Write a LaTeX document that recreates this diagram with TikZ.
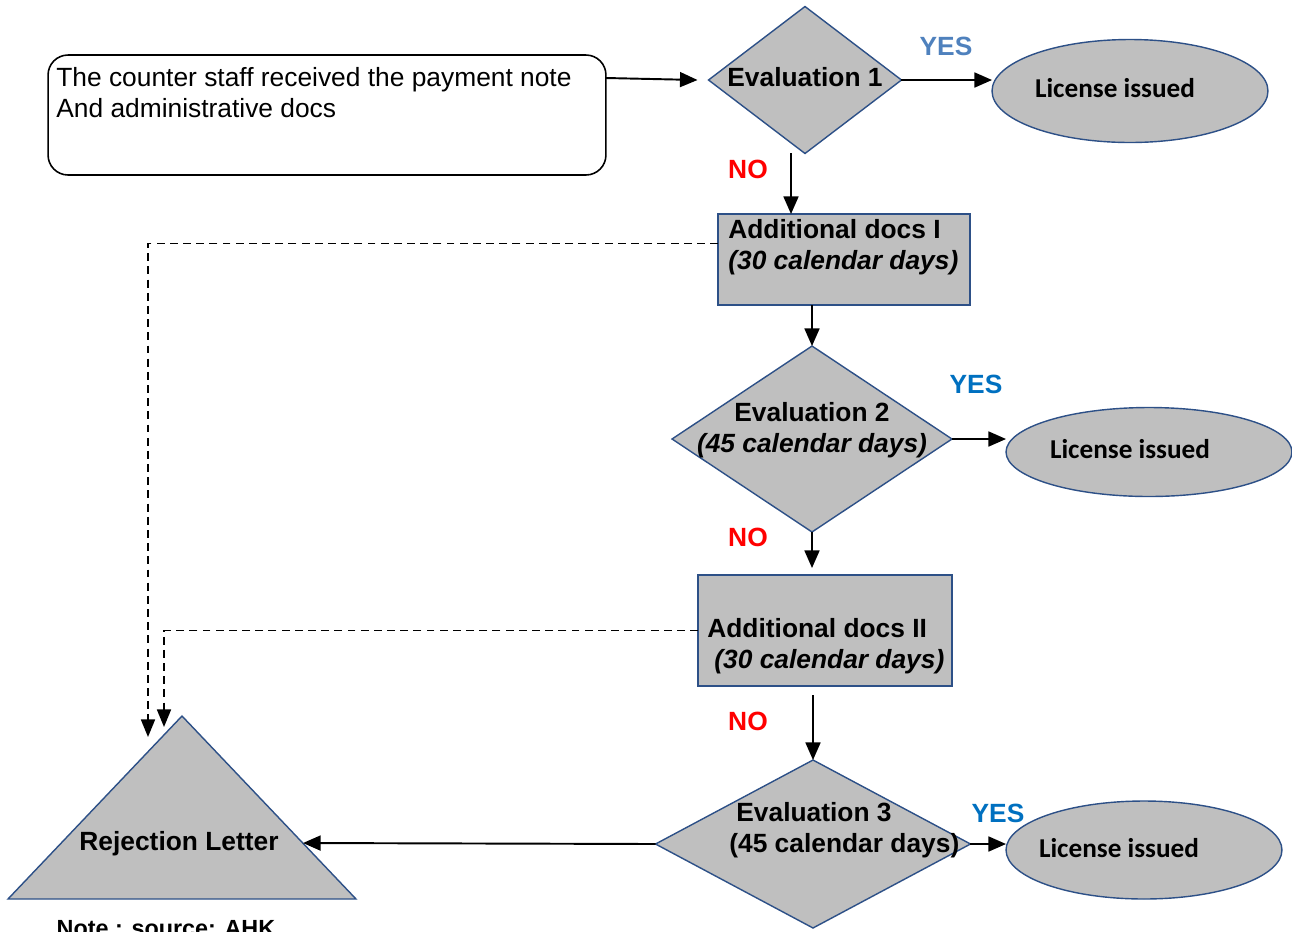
\documentclass[tikz,border=0pt]{standalone}
\usepackage{fontspec}
\setmainfont{Liberation Sans}
\newfontfamily\calib{Carlito}
\usetikzlibrary{shapes.geometric,arrows.meta}
\definecolor{shapefill}{RGB}{191,191,191}
\definecolor{shapeline}{RGB}{45,80,135}
\definecolor{yeslight}{RGB}{79,129,189}
\definecolor{yesblue}{RGB}{0,112,192}
\begin{document}
\begin{tikzpicture}[x=0.02cm,y=-0.02cm,font=\fontsize{15}{17.6}\selectfont\bfseries,
  shp/.style={draw=shapeline,fill=shapefill,line width=0.8pt,inner sep=0pt,outer sep=0pt},
  dec/.style={shp,diamond},
  lic/.style={shp,ellipse},
  docbox/.style={shp,rectangle},
  txt/.style={inner sep=0pt,align=left},
  lictxt/.style={inner sep=0pt,font=\calib\fontsize{15.5}{18}\selectfont\bfseries},
  arr/.style={line width=1.1pt,-{Triangle[length=10pt,width=8.5pt]}},
  dsh/.style={line width=0.9pt,dash pattern=on 4.5pt off 3pt,-{Triangle[length=10pt,width=8pt]}},
  yes/.style={inner sep=0pt,text=yesblue},
  no/.style={inner sep=0pt,text=red}]
\useasboundingbox (0,0) rectangle (1292,931);
\node[draw,rounded corners=0.4cm,line width=0.9pt,minimum width=11.16cm,minimum height=2.4cm,inner sep=0pt,outer sep=0pt] (start) at (327,115) {};
\node[txt,anchor=west,font=\fontsize{15}{17.6}\selectfont] (t-start) at (56,93) {The counter staff received the payment note\\And administrative docs};
\node[dec,minimum width=3.86cm,minimum height=2.94cm] (ev1) at (805,80) {};
\node[txt] (t-ev1) at (805,77) {Evaluation 1};
\node[lic,minimum width=5.52cm,minimum height=2.06cm] (lic1) at (1130,91) {};
\node[lictxt] (t-lic1) at (1115,88) {License issued};
\node[docbox,minimum width=5.04cm,minimum height=1.82cm] (ad1) at (844,259.5) {};
\node[txt,anchor=west] (t-ad1) at (728,247) {Additional docs I\\\textit{(30 calendar days)}};
\node[dec,minimum width=5.6cm,minimum height=3.72cm] (ev2) at (812,439) {};
\node[txt,align=center] (t-ev2) at (812,430) {Evaluation 2\\\textit{(45 calendar days)}};
\node[lic,minimum width=5.72cm,minimum height=1.78cm] (lic2) at (1149,452) {};
\node[lictxt] (t-lic2) at (1130,449) {License issued};
\node[docbox,minimum width=5.08cm,minimum height=2.22cm] (ad2) at (825,630.5) {};
\node[txt,anchor=west] (t-ad2) at (707,646) {Additional docs II\\\hspace*{4pt}\textit{(30 calendar days)}};
\node[dec,minimum width=6.3cm,minimum height=3.36cm] (ev3) at (813,844) {};
\node[txt,anchor=west] (t-ev3) at (729,830) {\hspace*{4pt}Evaluation 3\\(45 calendar days)};
\node[lic,minimum width=5.52cm,minimum height=1.96cm] (lic3) at (1144,850) {};
\node[lictxt] (t-lic3) at (1119,848) {License issued};
\filldraw[shp] (8,899) coordinate (rjl) -- (182,716) coordinate (rjtop) -- (356,899) coordinate (rjr) -- cycle;
\node[txt] (t-rj) at (179,844) {Rejection Letter};
\coordinate (rjin) at (303,843);
\coordinate (rj1) at (148,737);
\coordinate (rj2) at (164,727);
\node[txt,anchor=base,font=\fontsize{13.3}{16}\selectfont\bfseries] (note) at (166,936) {Note : source: AHK};
\node[yes,text=yeslight] (y1) at (946,46) {YES};
\node[no] (n1) at (748,169) {NO};
\node[yes] (y2) at (976,384) {YES};
\node[no] (n2) at (748,537) {NO};
\node[no] (n3) at (748,721) {NO};
\node[yes] (y3) at (998,813) {YES};
\draw[arr] (start.east) ++(0,-37) -- ([xshift=-0.22cm]ev1.west);
\draw[arr] (ev1.east) -- (ev1.east -| lic1.west);
\draw[arr] ([xshift=-0.28cm]ev1.south) -- ([xshift=-0.28cm]ev1.south |- ad1.north);
\draw[arr] (ev2.north |- ad1.south) -- (ev2.north);
\draw[arr] (ev2.east) -- (ev2.east -| lic2.west);
\draw[arr] (ev2.south) -- ([yshift=0.14cm]ev2.south |- ad2.north);
\draw[arr] ([yshift=-0.18cm]ad2.south -| ev3.north) -- (ev3.north);
\draw[arr] (ev3.east) -- (ev3.east -| lic3.west);
\draw[arr] (ev3.west) -- (rjin);
\draw[dsh] (ad1.west) ++(0,-16) -| (rj1);
\draw[dsh] (ad2.west) -| (rj2);
\end{tikzpicture}
\end{document}
